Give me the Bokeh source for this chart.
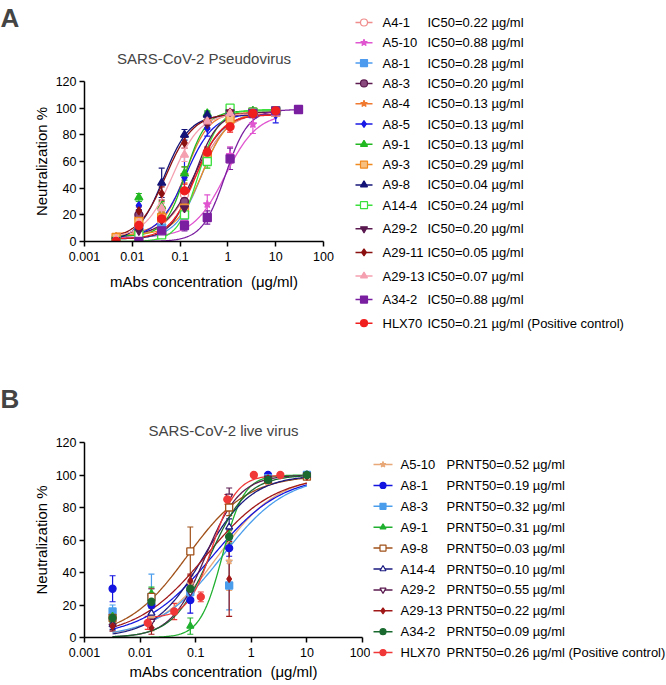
import numpy as np
from bokeh.plotting import figure
from bokeh.layouts import row, column
from bokeh.models import Range1d, FixedTicker, Title, Whisker, TeeHead, ColumnDataSource
from bokeh.core.properties import value
from bokeh.embed import file_html
from bokeh.resources import INLINE

FONT = "Liberation Sans"

# ---------------- shared axis data ----------------
x_ticks = [0.001, 0.01, 0.1, 1, 10, 100]
x_tick_labels = ["0.001", "0.01", "0.1", "1", "10", "100"]
y_ticks = [0, 20, 40, 60, 80, 100, 120]
x_label = "mAbs concentration \u00a0(μg/ml)"
y_label = "Neutralization %"

# ---------------- Panel A: pseudovirus ----------------
a_title = "SARS-CoV-2 Pseudovirus"
a_conc = [10, 3.333, 1.111, 0.3704, 0.1235, 0.04115, 0.01372, 0.004572]
a_conc_hi = [30, 10, 3.333, 1.111, 0.3704, 0.1235, 0.04115, 0.01372]

a_names = ["A4-1", "A5-10", "A8-1", "A8-3", "A8-4", "A8-5", "A9-1", "A9-3",
           "A9-8", "A14-4", "A29-2", "A29-11", "A29-13", "A34-2", "HLX70"]
a_labels = ["IC50=0.22 µg/ml", "IC50=0.88 µg/ml", "IC50=0.28 µg/ml", "IC50=0.20 µg/ml",
            "IC50=0.13 µg/ml", "IC50=0.13 µg/ml", "IC50=0.13 µg/ml", "IC50=0.29 µg/ml",
            "IC50=0.04 µg/ml", "IC50=0.24 µg/ml", "IC50=0.20 µg/ml", "IC50=0.05 µg/ml",
            "IC50=0.07 µg/ml", "IC50=0.88 µg/ml", "IC50=0.21 µg/ml (Positive control)"]

a_A4_1 = [97, 96, 95, 60, 35, 15, 18, 2]
a_A5_10 = [98, 88, 65, 28, 15, 8, 5, 1]
a_A8_1 = [97, 97, 96, 62, 20, 10, 10, 1]
a_A8_3 = [97, 96, 97, 65, 30, 17, 20, 2]
a_A8_4 = [97, 95, 95, 90, 50, 25, 13, 4]
a_A8_5 = [95, 96, 98, 85, 48, 18, 27, 0]
a_A9_1 = [98, 98, 98, 96, 51, 26, 33, 0]
a_A9_3 = [97, 97, 92, 64, 25, 18, 15, 3]
a_A9_8 = [97, 97, 97, 95, 80, 44, 10, 0]
a_A14_4 = [98, 97, 100, 60, 20, 5, 5, 0]
a_A29_2 = [97, 97, 97, 88, 25, 16, 8, 1]
a_A29_11 = [97, 96, 97, 90, 74, 36, 23, 1]
a_A29_13 = [96, 96, 96, 90, 65, 25, 14, 2]
a_A34_2 = [99, 98, 96, 62, 18, 12, 8, 0]
a_HLX70 = [98, 96, 86, 67, 38, 17, 12, 0]

a_A4_1_sd = [2, 2, 3, 5, 4, 3, 3, 1]
a_A5_10_sd = [2, 7, 6, 7, 4, 3, 2, 1]
a_A8_1_sd = [2, 2, 2, 5, 4, 3, 3, 1]
a_A8_3_sd = [2, 2, 2, 5, 4, 3, 3, 1]
a_A8_4_sd = [2, 2, 3, 3, 6, 4, 3, 1]
a_A8_5_sd = [6, 3, 2, 6, 16, 4, 3, 1]
a_A9_1_sd = [2, 2, 2, 2, 5, 4, 3, 1]
a_A9_3_sd = [2, 2, 4, 6, 5, 4, 3, 1]
a_A9_8_sd = [3, 3, 2, 2, 4, 11, 3, 1]
a_A14_4_sd = [2, 2, 2, 5, 4, 2, 2, 1]
a_A29_2_sd = [2, 2, 2, 4, 5, 3, 3, 1]
a_A29_11_sd = [2, 2, 2, 3, 4, 5, 3, 1]
a_A29_13_sd = [2, 2, 2, 3, 5, 4, 3, 1]
a_A34_2_sd = [1, 3, 3, 8, 5, 4, 2, 1]
a_HLX70_sd = [2, 2, 4, 4, 5, 4, 3, 1]

# fitted 4PL curve parameters
a_fit_ec50 = [0.22, 0.88, 0.28, 0.20, 0.13, 0.13, 0.13, 0.29, 0.045, 0.24, 0.20, 0.05, 0.07, 0.88, 0.21]
a_fit_hill = [1.3, 1.3, 1.6, 1.4, 1.8, 1.5, 2.0, 1.6, 1.6, 2.0, 1.8, 1.5, 1.5, 1.8, 1.6]
a_fit_bottom = [3, 3, 2, 4, 6, 3, 4, 5, 0, 0, 2, 2, 3, 0, 2]
a_fit_top = [97, 96, 97, 96, 97, 96, 98, 97, 95, 99, 97, 96, 96, 99, 95]

a_colors = ["#F08C8C", "#E055D0", "#4D9BEF", "#5C1A4E", "#F07A30", "#1A1AE6", "#22B822", "#F08A20",
            "#141478", "#3CE03C", "#5A1A50", "#8B1010", "#F5A0B0", "#7A1FA0", "#F01E1E"]
a_markers = ["circle", "star", "square", "circle", "star", "diamond", "triangle", "square",
             "triangle", "square", "inverted_triangle", "diamond", "triangle", "square", "circle"]
a_fills = ["white", "#E055D0", "#4D9BEF", "#8A4A7E", "#F07A30", "#1A1AE6", "#22B822", "#F8C080",
           "#141478", "white", "#5A1A50", "#8B1010", "#F5A0B0", "#7A1FA0", "#F01E1E"]

a_values = [a_A4_1, a_A5_10, a_A8_1, a_A8_3, a_A8_4, a_A8_5, a_A9_1, a_A9_3,
            a_A9_8, a_A14_4, a_A29_2, a_A29_11, a_A29_13, a_A34_2, a_HLX70]
a_sds = [a_A4_1_sd, a_A5_10_sd, a_A8_1_sd, a_A8_3_sd, a_A8_4_sd, a_A8_5_sd, a_A9_1_sd, a_A9_3_sd,
         a_A9_8_sd, a_A14_4_sd, a_A29_2_sd, a_A29_11_sd, a_A29_13_sd, a_A34_2_sd, a_HLX70_sd]
a_concs = [a_conc_hi if n == "A34-2" else a_conc for n in a_names]

# ---------------- Panel B: live virus ----------------
b_title = "SARS-CoV-2 live virus"
b_conc = [10, 2, 0.4, 0.08, 0.016, 0.0032]
b_conc_ctrl = [3.333, 1.111, 0.3704, 0.1235, 0.04115, 0.01372]

b_names = ["A5-10", "A8-1", "A8-3", "A9-1", "A9-8", "A14-4", "A29-2", "A29-13", "A34-2", "HLX70"]
b_labels = ["PRNT50=0.52 µg/ml", "PRNT50=0.19 µg/ml", "PRNT50=0.32 µg/ml", "PRNT50=0.31 µg/ml",
            "PRNT50=0.03 µg/ml", "PRNT50=0.10 µg/ml", "PRNT50=0.55 µg/ml", "PRNT50=0.22 µg/ml",
            "PRNT50=0.09 µg/ml", "PRNT50=0.26 µg/ml (Positive control)"]

b_A5_10 = [99, 96, 47, 33, 12, 12]
b_A8_1 = [100, 100, 55, 23, 20, 30]
b_A8_3 = [100, 98, 32, 28, 25, 16]
b_A9_1 = [100, 97, 63, 7, 27, 13]
b_A9_8 = [99, 97, 80, 53, 25, 12]
b_A14_4 = [100, 97, 68, 30, 15, 8]
b_A29_2 = [100, 98, 87, 28, 10, 7]
b_A29_13 = [99, 98, 36, 35, 6, 7]
b_A34_2 = [100, 97, 62, 30, 22, 12]
b_HLX70 = [100, 100, 85, 25, 16, 9]

b_A5_10_sd = [1, 2, 18, 5, 8, 4]
b_A8_1_sd = [0, 0, 5, 8, 10, 8]
b_A8_3_sd = [0, 1, 15, 5, 14, 4]
b_A9_1_sd = [0, 1, 4, 5, 4, 4]
b_A9_8_sd = [1, 1, 5, 15, 5, 4]
b_A14_4_sd = [0, 1, 5, 4, 5, 3]
b_A29_2_sd = [0, 1, 5, 4, 4, 3]
b_A29_13_sd = [1, 1, 23, 4, 4, 3]
b_A34_2_sd = [0, 1, 4, 4, 4, 3]
b_HLX70_sd = [0, 0, 3, 3, 5, 4]

b_fit_ec50 = [0.25, 0.2, 0.3, 0.3, 0.07, 0.14, 0.15, 0.15, 0.18, 0.2]
b_fit_hill = [0.8, 0.7, 0.75, 2.2, 0.8, 1.0, 1.4, 0.7, 1.3, 2.0]
b_fit_bottom = [0, 0, 0, 0, 0, 0, 0, 0, 0, 12]
b_fit_top = [100, 100, 100, 100, 100, 100, 100, 100, 100, 100]

b_colors = ["#E8A878", "#1414E0", "#4A9DEB", "#20B030", "#A05018", "#1A1A80", "#5A1A50",
            "#A01818", "#1A6A30", "#F03838"]
b_markers = ["star", "circle", "square", "triangle", "square", "triangle", "inverted_triangle",
             "diamond", "circle", "circle"]
b_fills = ["#E8A878", "#1414E0", "#4A9DEB", "#20B030", "white", "white", "white",
           "#A01818", "#1A6A30", "#F03838"]

b_values = [b_A5_10, b_A8_1, b_A8_3, b_A9_1, b_A9_8, b_A14_4, b_A29_2, b_A29_13, b_A34_2, b_HLX70]
b_sds = [b_A5_10_sd, b_A8_1_sd, b_A8_3_sd, b_A9_1_sd, b_A9_8_sd, b_A14_4_sd, b_A29_2_sd,
         b_A29_13_sd, b_A34_2_sd, b_HLX70_sd]
b_concs = [b_conc_ctrl if n == "HLX70" else b_conc for n in b_names]


def style_axes(p, label_size, tick_size):
    p.xaxis.ticker = FixedTicker(ticks=x_ticks)
    p.xaxis.major_label_overrides = {t: s for t, s in zip(x_ticks, x_tick_labels)}
    p.yaxis.ticker = FixedTicker(ticks=y_ticks)
    for ax in (p.xaxis[0], p.yaxis[0]):
        ax.axis_line_width = 1.5
        ax.axis_line_color = "black"
        ax.major_tick_line_width = 1.5
        ax.major_tick_line_color = "black"
        ax.major_tick_out = 5
        ax.major_tick_in = 0
        ax.minor_tick_out = 0
        ax.minor_tick_in = 0
        ax.minor_tick_line_color = None
        ax.major_label_text_font = FONT
        ax.major_label_text_font_size = tick_size
        ax.major_label_text_color = "black"
        ax.axis_label_text_font = FONT
        ax.axis_label_text_font_size = label_size
        ax.axis_label_text_font_style = "normal"
        ax.axis_label_text_color = "black"
    p.yaxis.major_label_standoff = 3
    p.yaxis.axis_label_standoff = 3
    p.xgrid.visible = False
    p.ygrid.visible = False
    p.outline_line_color = None


def draw_panel(p, concs, values, sds, colors, markers, fills, ec50s, hills, bottoms, tops, msize):
    for conc, c, e, h, b, t in zip(concs, colors, ec50s, hills, bottoms, tops):
        xs = np.geomspace(min(conc), max(conc), 160)
        ys = b + (t - b) / (1 + (e / xs) ** h)
        p.line(xs, ys, line_color=c, line_width=1.3)
    for conc, v, s, c in zip(concs, values, sds, colors):
        v = np.array(v, float)
        s = np.array(s, float)
        src = ColumnDataSource(dict(base=conc, upper=v + s, lower=np.clip(v - s, 0, None)))
        w = Whisker(source=src, base="base", upper="upper", lower="lower", dimension="height",
                    line_color=c, line_width=1.2,
                    upper_head=TeeHead(size=6, line_color=c, line_width=1.2),
                    lower_head=TeeHead(size=6, line_color=c, line_width=1.2))
        p.add_layout(w)
    for conc, v, c, m, f in zip(concs, values, colors, markers, fills):
        p.scatter(conc, v, marker=m, size=msize, line_color=c, fill_color=f, line_width=1.3)


def add_titles(p, title, letter, title_standoff, letter_standoff, left):
    # the figure's own title (outermost) carries the panel letter
    p.title.text = letter
    p.title.align = "left"
    p.title.offset = -left
    p.title.text_font = FONT
    p.title.text_font_size = "26px"
    p.title.text_font_style = "bold"
    p.title.standoff = letter_standoff
    # the panel title sits next to the plot frame
    p.add_layout(Title(text=title, align="center", text_font=FONT, text_font_size="15px",
                       text_font_style="normal", standoff=title_standoff), "above")


# ---------------- Figure A ----------------
pa = figure(width=350, height=335, x_axis_type="log", x_range=Range1d(0.001, 100),
            y_range=Range1d(0, 120), output_backend="svg", toolbar_location=None,
            min_border_left=84, min_border_right=27, min_border_top=81, min_border_bottom=94,
            x_axis_label=x_label, y_axis_label=y_label)
pa.frame_align = False
style_axes(pa, "15px", "12.5px")
pa.xaxis.axis_label_standoff = 9
draw_panel(pa, a_concs, a_values, a_sds, a_colors, a_markers, a_fills,
           a_fit_ec50, a_fit_hill, a_fit_bottom, a_fit_top, 8)
add_titles(pa, a_title, "A", 29, 1, 84)

# ---------------- Figure B ----------------
pb = figure(width=370, height=350, x_axis_type="log", x_range=Range1d(0.001, 100),
            y_range=Range1d(0, 120), output_backend="svg", toolbar_location=None,
            min_border_left=84, min_border_right=8, min_border_top=107, min_border_bottom=48,
            x_axis_label=x_label, y_axis_label=y_label)
pb.frame_align = False
style_axes(pb, "15px", "12.5px")
pb.xaxis.major_label_standoff = 5
pb.xaxis.axis_label_standoff = 3
draw_panel(pb, b_concs, b_values, b_sds, b_colors, b_markers, b_fills,
           b_fit_ec50, b_fit_hill, b_fit_bottom, b_fit_top, 7)
add_titles(pb, b_title, "B", 8, 4, 84)


# ---------------- legends ----------------
def legend_fig(width, height, names, labels, colors, markers, fills, rows_y,
               seg0, seg1, mark_x, name_x, val_x, font_size, msize):
    n = len(names)
    lp = figure(width=width, height=height, x_range=Range1d(0, width), y_range=Range1d(height, 0),
                min_border=0, toolbar_location=None, output_backend="svg",
                x_axis_type=None, y_axis_type=None)
    lp.frame_align = False
    lp.outline_line_color = None
    lp.grid.visible = False
    src = ColumnDataSource(dict(y=rows_y, x0=[seg0] * n, x1=[seg1] * n, xm=[mark_x] * n,
                                xn=[name_x] * n, xv=[val_x] * n, color=colors, fill=fills,
                                marker=markers, name=names, label=labels))
    lp.segment(x0="x0", y0="y", x1="x1", y1="y", line_color="color", line_width=1.5, source=src)
    lp.scatter(x="xm", y="y", marker="marker", size=msize, line_color="color",
               fill_color="fill", line_width=1.2, source=src)
    lp.text(x="xn", y="y", text="name", text_font=value(FONT), text_font_size=font_size,
            text_baseline="middle", text_align="left", text_color="black", source=src)
    lp.text(x="xv", y="y", text="label", text_font=value(FONT), text_font_size=font_size,
            text_baseline="middle", text_align="left", text_color="black", source=src)
    return lp


# legend A rows: tighter spacing for the first ten entries, wider for the rest
a_rows = [22 + i * 20.3 if i <= 9 else 22 + 9 * 20.3 + (i - 9) * 23.6 for i in range(len(a_names))]
la = legend_fig(316, 335, a_names, a_labels, a_colors, a_markers, a_fills, a_rows,
                5, 22, 13.5, 32, 77, "13px", 7)

b_rows = [129 + i * 20.9 for i in range(len(b_names))]
lb = legend_fig(296, 350, b_names, b_labels, b_colors, b_markers, b_fills, b_rows,
                3, 22, 12.5, 30, 76, "13px", 6)

layout = column(row(pa, la), row(pb, lb))

html = file_html(layout, INLINE)
open("out.html", "w").write(html)
